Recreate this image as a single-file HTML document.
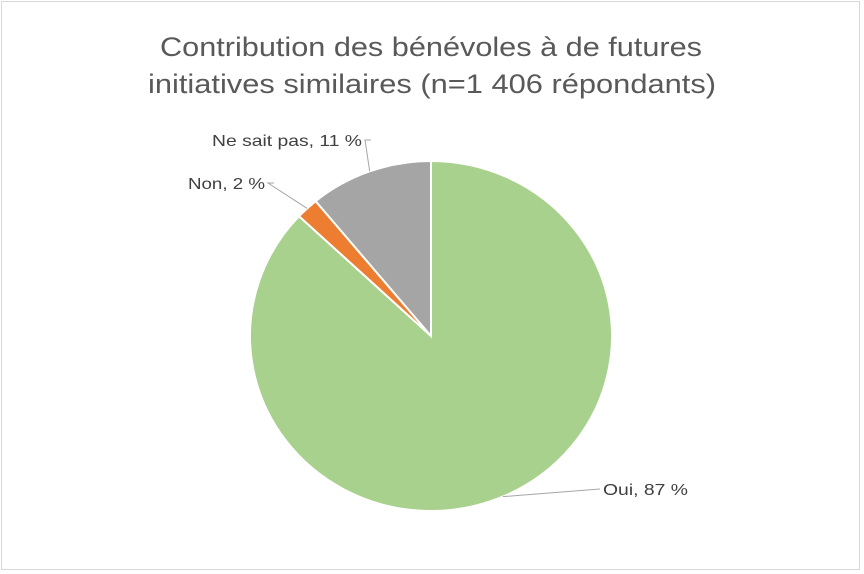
<!DOCTYPE html>
<html><head><meta charset="utf-8"><style>
html,body{margin:0;padding:0;background:#fff;}
svg{display:block;font-family:"Liberation Sans",sans-serif;}
</style></head><body>
<svg id="chart" width="864" height="574" viewBox="0 0 864 574">
<rect x="1.5" y="1.5" width="858" height="568" fill="#fff" stroke="#d9d9d9"/>
<text x="160" y="56" textLength="542" lengthAdjust="spacingAndGlyphs" font-size="27" fill="#595959">Contribution des bénévoles à de futures</text>
<text x="148" y="93" textLength="568" lengthAdjust="spacingAndGlyphs" font-size="27" fill="#595959">initiatives similaires (n=1 406 répondants)</text>
<g id="slices"></g>
<g id="labels"></g>
</svg>
<script>
const categories = ["Oui", "Non", "Ne sait pas"];
const values = [87, 2, 11];
const colors = ["#a9d18e", "#ed7d31", "#a5a5a5"];
const labelText = ["Oui, 87 %", "Non, 2 %", "Ne sait pas, 11 %"];

const cx = 431, cy = 336, rx = 181, ry = 175;
const total = values.reduce((a,b)=>a+b,0);
const ns = "http://www.w3.org/2000/svg";
const gS = document.getElementById("slices");
const gL = document.getElementById("labels");
function pt(a, k){ return [cx + rx*k*Math.sin(a), cy - ry*k*Math.cos(a)]; }
// label layout: x, baseline y, anchor, text width
const labelPos = [[603,495,"start",85],[265,189,"end",77],[362,146,"end",150]];
let acc = 0;
values.forEach((v,i)=>{
  const a0 = acc/total*2*Math.PI; acc += v; const a1 = acc/total*2*Math.PI;
  const p0 = pt(a0,1), p1 = pt(a1,1);
  const large = (a1-a0) > Math.PI ? 1 : 0;
  const path = document.createElementNS(ns,"path");
  path.setAttribute("d",`M${cx},${cy} L${p0[0]},${p0[1]} A${rx},${ry} 0 ${large} 1 ${p1[0]},${p1[1]} Z`);
  path.setAttribute("fill",colors[i]);
  path.setAttribute("stroke","#fff");
  path.setAttribute("stroke-width","2");
  
  
  gS.appendChild(path);
  const mid = (a0+a1)/2;
  const e = pt(mid, 1);
  const lp = labelPos[i];
  const line = document.createElementNS(ns,"polyline");
  const lx = lp[2]==="start" ? lp[0]-3 : lp[0]+3;
  line.setAttribute("points", `${e[0]},${e[1]} ${lx},${lp[1]-6} ${lp[2]==="start"?lx:lx+6},${lp[1]-6}`);
  line.setAttribute("fill","none");
  line.setAttribute("stroke","#a6a6a6");
  line.setAttribute("stroke-width","1");
  
  
  gL.appendChild(line);
  const t = document.createElementNS(ns,"text");
  t.setAttribute("x", lp[2]==="start" ? lp[0] : lp[0]-lp[3]); t.setAttribute("y", lp[1]);
  t.setAttribute("textLength", lp[3]);
  t.setAttribute("lengthAdjust", "spacingAndGlyphs");
  t.setAttribute("font-size","16"); t.setAttribute("fill","#404040");
  t.textContent = labelText[i];
  
  
  gL.appendChild(t);
});
</script>
</body></html>
